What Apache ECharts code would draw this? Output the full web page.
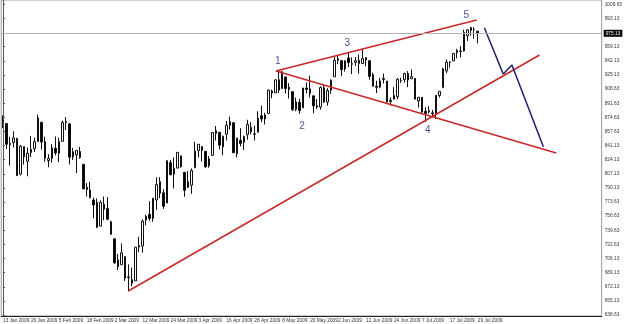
<!DOCTYPE html>
<html>
<head>
<meta charset="utf-8">
<script src="https://cdn.jsdelivr.net/npm/echarts@6/dist/echarts.min.js"></script>
<style>
  html, body { margin: 0; padding: 0; background: #fff; }
  #chart { width: 625px; height: 324px; }
</style>
</head>
<body>
<div id="chart"></div>
<script>
// trading days shown (daily bars)
const dates = [
  '13 Jan 2009','14 Jan 2009','15 Jan 2009','16 Jan 2009','20 Jan 2009','21 Jan 2009','22 Jan 2009','23 Jan 2009','26 Jan 2009','27 Jan 2009','28 Jan 2009','29 Jan 2009','30 Jan 2009',
  '2 Feb 2009','3 Feb 2009','4 Feb 2009','5 Feb 2009','6 Feb 2009','9 Feb 2009','10 Feb 2009','11 Feb 2009','12 Feb 2009','13 Feb 2009','17 Feb 2009','18 Feb 2009','19 Feb 2009','20 Feb 2009','23 Feb 2009','24 Feb 2009','25 Feb 2009','26 Feb 2009','27 Feb 2009',
  '2 Mar 2009','3 Mar 2009','4 Mar 2009','5 Mar 2009','6 Mar 2009','9 Mar 2009','10 Mar 2009','11 Mar 2009','12 Mar 2009','13 Mar 2009','16 Mar 2009','17 Mar 2009','18 Mar 2009','19 Mar 2009','20 Mar 2009','23 Mar 2009','24 Mar 2009','25 Mar 2009','26 Mar 2009','27 Mar 2009','30 Mar 2009','31 Mar 2009',
  '1 Apr 2009','2 Apr 2009','3 Apr 2009','6 Apr 2009','7 Apr 2009','8 Apr 2009','9 Apr 2009','13 Apr 2009','14 Apr 2009','15 Apr 2009','16 Apr 2009','17 Apr 2009','20 Apr 2009','21 Apr 2009','22 Apr 2009','23 Apr 2009','24 Apr 2009','27 Apr 2009','28 Apr 2009','29 Apr 2009','30 Apr 2009',
  '1 May 2009','4 May 2009','5 May 2009','6 May 2009','7 May 2009','8 May 2009','11 May 2009','12 May 2009','13 May 2009','14 May 2009','15 May 2009','18 May 2009','19 May 2009','20 May 2009','21 May 2009','22 May 2009','26 May 2009','27 May 2009','28 May 2009','29 May 2009',
  '1 Jun 2009','2 Jun 2009','3 Jun 2009','4 Jun 2009','5 Jun 2009','8 Jun 2009','9 Jun 2009','10 Jun 2009','11 Jun 2009','12 Jun 2009','15 Jun 2009','16 Jun 2009','17 Jun 2009','18 Jun 2009','19 Jun 2009','22 Jun 2009','23 Jun 2009','24 Jun 2009','25 Jun 2009','26 Jun 2009','29 Jun 2009','30 Jun 2009',
  '1 Jul 2009','2 Jul 2009','6 Jul 2009','7 Jul 2009','8 Jul 2009','9 Jul 2009','10 Jul 2009','13 Jul 2009','14 Jul 2009','15 Jul 2009','16 Jul 2009','17 Jul 2009','20 Jul 2009','21 Jul 2009','22 Jul 2009','23 Jul 2009','24 Jul 2009','27 Jul 2009','28 Jul 2009','29 Jul 2009'
];
// empty slots to the right (chart shift area)
const futureDates = [
  '30 Jul 2009','31 Jul 2009','3 Aug 2009','4 Aug 2009','5 Aug 2009','6 Aug 2009','7 Aug 2009','10 Aug 2009','11 Aug 2009','12 Aug 2009','13 Aug 2009','14 Aug 2009',
  '17 Aug 2009','18 Aug 2009','19 Aug 2009','20 Aug 2009','21 Aug 2009','24 Aug 2009','25 Aug 2009','26 Aug 2009','27 Aug 2009','28 Aug 2009','31 Aug 2009',
  '1 Sep 2009','2 Sep 2009','3 Sep 2009','4 Sep 2009','8 Sep 2009','9 Sep 2009','10 Sep 2009','11 Sep 2009','14 Sep 2009','15 Sep 2009','16 Sep 2009','17 Sep 2009'
];

// [open, close, low, high]
const ohlc = [
  [869.79,871.79,862.02,877.02],[867.28,842.62,836.93,867.28],[841.99,843.74,817.04,851.59],[844.45,850.12,838.75,858.13],
  [849.64,805.22,804.47,849.64],[806.77,840.24,805.22,841.72],[839.74,827.50,818.25,839.74],[822.16,831.95,804.30,838.82],
  [832.50,836.57,827.23,852.53],[837.30,845.71,833.30,850.45],[845.73,874.09,845.73,877.86],[868.89,845.14,836.13,868.89],
  [845.69,825.88,821.67,851.66],
  [823.09,825.44,814.98,830.78],[825.69,838.51,820.47,842.60],[837.77,832.23,829.29,851.85],[831.75,845.85,821.06,850.55],
  [846.09,868.60,846.09,870.75],[868.24,869.89,859.60,875.01],[866.87,827.16,818.41,868.05],[827.41,833.74,823.98,838.22],
  [829.91,835.19,808.06,835.48],[833.95,826.84,825.21,839.43],[818.61,789.17,789.17,818.61],[791.06,788.42,780.12,796.17],
  [787.91,778.94,777.76,797.58],[775.87,770.05,754.25,778.69],[773.25,743.33,742.37,777.85],[744.69,773.14,744.69,775.49],
  [770.64,764.90,751.76,780.12],[765.76,752.83,751.71,779.42],[749.93,735.09,734.52,751.27],
  [729.57,700.82,699.70,729.57],[704.44,696.33,692.30,711.67],[698.60,712.87,698.60,724.12],[708.27,682.55,679.28,708.27],
  [684.04,683.38,666.79,699.09],[680.76,676.53,672.88,695.27],[679.28,719.60,679.28,719.60],[719.59,721.36,713.54,731.92],
  [720.89,750.74,712.93,752.63],[751.97,756.55,745.69,758.29],[758.84,753.89,751.08,774.53],[753.88,778.12,749.93,778.12],
  [776.01,794.35,764.08,803.04],[797.92,784.04,778.11,803.24],[784.58,768.54,765.34,788.91],[772.31,822.92,772.31,823.37],
  [820.60,806.12,805.49,823.65],[806.81,813.88,789.77,826.77],[814.06,832.86,814.06,832.98],[828.68,815.94,814.29,828.68],
  [809.07,787.53,779.81,809.07],[790.88,797.87,790.88,810.48],
  [793.59,811.08,783.32,813.62],[814.53,834.38,814.53,845.61],[835.13,842.50,826.70,842.50],[839.75,835.48,821.99,839.75],
  [834.12,815.55,814.53,834.12],[816.76,825.16,814.53,828.42],[829.29,856.56,829.29,856.91],[855.33,858.73,847.03,864.31],
  [856.88,841.50,836.26,856.88],[839.44,852.06,829.37,852.93],[854.54,865.30,847.04,870.35],[865.18,869.60,860.00,875.63],
  [868.27,832.39,832.39,868.27],[831.25,850.08,826.83,850.09],[847.26,843.55,839.91,861.78],[844.62,851.92,835.62,852.87],
  [853.91,866.23,847.95,871.80],[862.82,857.51,854.65,868.83],[854.48,855.16,847.12,864.48],[856.85,873.64,856.85,882.06],
  [876.59,872.81,868.86,888.70],
  [872.74,877.52,866.10,880.24],[879.21,907.24,879.21,907.85],[906.10,903.80,897.59,907.70],[903.95,919.53,903.95,920.28],
  [919.58,907.39,903.78,929.58],[909.03,929.23,909.03,930.17],[922.99,909.24,903.26,922.99],[910.52,908.35,897.13,915.57],
  [905.40,883.92,882.52,905.40],[884.24,893.07,882.04,898.36],[892.76,882.88,878.94,896.97],[886.07,909.71,886.07,910.00],
  [909.67,908.13,903.43,916.39],[908.62,903.47,898.45,924.60],[900.42,888.33,879.61,900.42],[888.68,887.00,884.72,896.65],
  [887.00,910.33,883.80,911.76],[909.95,893.06,891.87,913.84],[892.96,906.83,888.64,909.45],[907.02,919.14,902.83,920.02],
  [923.26,942.87,923.26,947.77],[942.87,944.74,938.25,949.38],[942.51,931.76,923.85,942.51],[932.49,942.46,929.32,942.47],
  [945.67,940.09,934.73,951.69],[938.12,939.14,926.44,946.33],[940.35,942.43,936.15,946.92],[942.73,939.15,926.94,949.77],
  [939.04,944.89,939.04,956.23],[943.44,946.21,935.66,946.30],[942.45,923.72,919.65,942.45],[925.60,911.97,911.60,928.00],
  [911.89,910.71,903.78,918.44],[910.86,918.37,909.45,921.93],[919.96,921.23,915.11,927.09],[918.13,893.04,892.37,918.13],
  [893.46,895.10,888.86,898.69],[896.31,900.94,896.31,910.85],[899.45,920.26,896.27,921.42],[918.84,918.90,915.94,922.00],
  [919.86,927.23,916.18,927.99],[927.15,919.32,910.73,930.01],
  [920.82,923.33,920.82,931.92],[921.24,896.42,896.42,921.24],[894.27,898.72,886.36,898.72],[898.60,881.03,879.93,898.60],
  [881.90,879.56,869.32,886.80],[881.28,882.68,879.25,887.86],[880.03,879.13,875.27,883.57],[879.57,901.05,872.81,901.05],
  [900.77,905.84,898.36,905.84],[910.15,932.68,910.15,933.95],[930.17,940.74,927.45,943.96],[940.56,940.38,934.07,941.89],
  [942.07,951.13,942.07,951.62],[951.97,954.58,945.17,956.53],[953.40,954.07,946.31,959.83],[954.07,976.29,953.27,979.42],
  [972.16,979.26,965.95,979.79],[978.63,982.18,972.29,982.49],[979.43,979.62,968.65,982.49],[977.66,975.13,963.10,977.76]
];

const xTickLabels = [
  '13 Jan 2009','26 Jan 2009','5 Feb 2009','18 Feb 2009','2 Mar 2009','12 Mar 2009','24 Mar 2009','3 Apr 2009','16 Apr 2009',
  '28 Apr 2009','8 May 2009','20 May 2009','2 Jun 2009','12 Jun 2009','24 Jun 2009','7 Jul 2009','17 Jul 2009','29 Jul 2009'
];
const yTickValues = [638.63,655.13,672.13,689.13,706.13,722.63,739.63,756.63,773.63,790.13,807.13,824.13,841.13,857.63,874.63,891.63,908.63,925.13,942.13,959.13,993.13,1009.63];
const lastPrice = 975.13;

// hand drawn wave lines: [bar index, price]
const upperLine = [[78.2, 930.1], [135.7, 991.0]];
const line14 = [[78.2, 930.1], [158.5, 832.1]];
const lowerLine = [[35.9, 667.2], [153.7, 949.2]];
const targetPath = [[137.9, 981.8], [143.3, 926.5], [145.8, 937.2], [154.8, 839.6]];
const waveNames = ['1', '2', '3', '4', '5'];
const wavePoints = [[78.7, 941.2], [85.7, 863.5], [98.6, 963.2], [121.7, 858.8], [132.7, 996.2]];

const categories = dates.concat(futureDates);
const N = categories.length;

const chart = echarts.init(document.getElementById('chart'));

const red = '#c62828';
const navy = '#1f1f72';
const axisText = { color: '#333', fontSize: 4.8, fontFamily: 'Liberation Sans' };
const showTick = (i, v) => xTickLabels.indexOf(v) >= 0;

chart.setOption({
  animation: false,
  grid: {
    show: true, borderColor: '#999', borderWidth: 1,
    left: -4.2, right: 19, top: 0, bottom: 8
  },
  xAxis: [
    {
      type: 'category',
      data: categories,
      boundaryGap: true,
      axisLine: { lineStyle: { color: '#222', width: 1 } },
      axisTick: { interval: showTick, alignWithLabel: true, length: 2, lineStyle: { color: '#222' } },
      axisLabel: Object.assign({ interval: showTick, align: 'left', margin: 2 }, axisText),
      splitLine: { show: false }
    },
    {
      type: 'value', show: false,
      min: -0.5, max: N - 0.5
    }
  ],
  yAxis: {
    type: 'value',
    position: 'right',
    min: 637.33, max: 1014.92,
    scale: true,
    axisLine: { show: true, lineStyle: { color: '#555' } },
    axisTick: { show: true, customValues: yTickValues, length: 2, inside: false, lineStyle: { color: '#555' } },
    axisLabel: Object.assign({ customValues: yTickValues, margin: 3, formatter: v => v.toFixed(2) }, axisText),
    splitLine: { show: false }
  },
  series: [
    {
      type: 'candlestick',
      xAxisIndex: 0,
      data: ohlc,
      barWidth: 2,
      itemStyle: { color: '#fff', color0: '#000', borderColor: '#111', borderColor0: '#111', borderWidth: 1 },
      markLine: {
        silent: true,
        symbol: 'none',
        lineStyle: { color: '#b4b4b4', width: 1, type: 'solid' },
        label: {
          position: 'end', distance: 2,
          formatter: () => lastPrice.toFixed(2),
          color: '#fff', backgroundColor: '#000', padding: [1, 2],
          fontSize: 4.8, fontFamily: 'Liberation Sans'
        },
        data: [{ yAxis: lastPrice }]
      }
    },
    { type: 'line', xAxisIndex: 1, data: upperLine, symbol: 'none', lineStyle: { color: red, width: 1.5 } },
    { type: 'line', xAxisIndex: 1, data: line14, symbol: 'none', lineStyle: { color: red, width: 1.5 } },
    { type: 'line', xAxisIndex: 1, data: lowerLine, symbol: 'none', lineStyle: { color: red, width: 1.5 } },
    { type: 'line', xAxisIndex: 1, data: targetPath, symbol: 'none', lineStyle: { color: navy, width: 1.5 } },
    {
      type: 'scatter', xAxisIndex: 1,
      data: wavePoints.map((p, i) => ({ name: waveNames[i], value: p })),
      symbolSize: 1,
      itemStyle: { color: 'transparent' },
      label: { show: true, position: 'inside', formatter: '{b}', color: navy, fontSize: 10, fontFamily: 'Liberation Sans' }
    }
  ]
});
</script>
</body>
</html>
